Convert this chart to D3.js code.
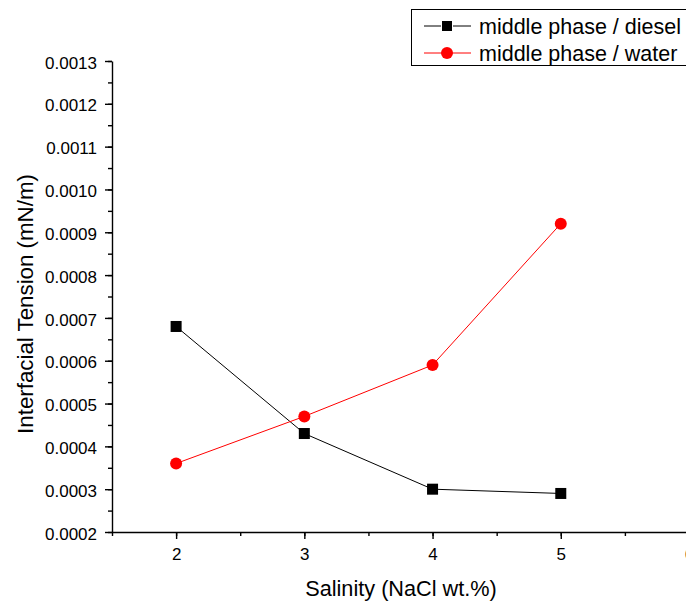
<!DOCTYPE html>
<html><head><meta charset="utf-8">
<script src="https://cdn.jsdelivr.net/npm/d3@7"></script>
<style>body{margin:0;background:#fff}svg{display:block;font-family:Arial,"Liberation Sans",sans-serif}</style>
</head><body><svg id="c" width="686" height="601"></svg>
<script>
const salinity = [2, 3, 4, 5];
const diesel = [0.00068, 0.00043, 0.00030, 0.00029];
const water = [0.00036, 0.00047, 0.00059, 0.00092];
const seriesNames = ["middle phase / diesel", "middle phase / water"];
const xTicks = [2, 3, 4, 5, 6];
const yTicks = [0.0002,0.0003,0.0004,0.0005,0.0006,0.0007,0.0008,0.0009,0.0010,0.0011,0.0012,0.0013];

const FF = "Arial, Liberation Sans, sans-serif";
const svg = d3.select("#c");
const x = d3.scaleLinear().domain([1.5, 6]).range([112, 689]);
const y = d3.scaleLinear().domain([0.0002, 0.0013]).range([532, 61]);

// minor ticks
const xMinor = d3.range(1.5, 6.01, 0.5);
const yMinor = d3.range(0.0002, 0.001301, 0.00005);
svg.append("g").attr("transform","translate(0,532)")
  .call(d3.axisBottom(x).tickValues(xMinor).tickSize(4).tickFormat(""))
  .call(g=>g.select(".domain").remove())
  .selectAll("line").attr("stroke","#000").attr("stroke-width",1.4);
svg.append("g").attr("transform","translate(112,0)")
  .call(d3.axisLeft(y).tickValues(yMinor).tickSize(4).tickFormat(""))
  .call(g=>g.select(".domain").remove())
  .selectAll("line").attr("stroke","#000").attr("stroke-width",1.4);

const xa = svg.append("g").attr("transform","translate(0,532)")
  .call(d3.axisBottom(x).tickValues(xTicks).tickSize(7).tickSizeOuter(0).tickFormat(d3.format("d")));
xa.selectAll("text").attr("font-size",17).attr("y",28).attr("dy",0).attr("font-family",FF);
const ya = svg.append("g").attr("transform","translate(112,0)")
  .call(d3.axisLeft(y).tickValues(yTicks).tickSize(7).tickSizeOuter(0).tickFormat(d3.format(".4f")));
ya.selectAll("text").attr("font-size",17).attr("x",-15).attr("dy","0.42em").attr("font-family",FF);
[xa, ya].forEach(a=>{a.selectAll("line,path").attr("stroke","#000").attr("stroke-width",1.4);});

svg.append("text").attr("x",401).attr("y",596).attr("text-anchor","middle").attr("font-size",21.7).text("Salinity (NaCl wt.%)");
svg.append("text").attr("transform","translate(33,304) rotate(-90)").attr("text-anchor","middle").attr("font-size",22.3).text("Interfacial Tension (mN/m)");

const line = d3.line().x((d,i)=>x(salinity[i])).y(d=>y(d));
svg.append("path").datum(diesel).attr("d",line).attr("fill","none").attr("stroke","#000").attr("stroke-width",1);
svg.append("path").datum(water).attr("d",line).attr("fill","none").attr("stroke","#ff0000").attr("stroke-width",1);
svg.selectAll(".sq").data(diesel).enter().append("rect")
  .attr("x",(d,i)=>x(salinity[i])-5.5).attr("y",d=>y(d)-5.5).attr("width",11).attr("height",11).attr("fill","#000");
svg.selectAll(".ci").data(water).enter().append("circle")
  .attr("cx",(d,i)=>x(salinity[i])).attr("cy",d=>y(d)).attr("r",6).attr("fill","#ff0000");

// legend
const lg = svg.append("g");
lg.append("rect").attr("x",411.5).attr("y",9.5).attr("width",290).attr("height",56).attr("fill","#fff").attr("stroke","#000").attr("stroke-width",1);
const lc = ["#000","#ff0000"];
seriesNames.forEach((n,i)=>{
  const yy = 26 + i*27;
  lg.append("line").attr("x1",424).attr("x2",471).attr("y1",yy).attr("y2",yy).attr("stroke",lc[i]).attr("stroke-width",1);
  if(i===0) lg.append("rect").attr("x",441).attr("y",yy-5.5).attr("width",12).attr("height",11).attr("fill","#fff");
  if(i===0) lg.append("rect").attr("x",442).attr("y",yy-5).attr("width",10).attr("height",10).attr("fill","#000");
  else lg.append("circle").attr("cx",447).attr("cy",yy).attr("r",6).attr("fill","#ff0000");
  lg.append("text").attr("x",479).attr("y",yy+8).attr("font-size",21.5).text(n);
});
</script></body></html>
